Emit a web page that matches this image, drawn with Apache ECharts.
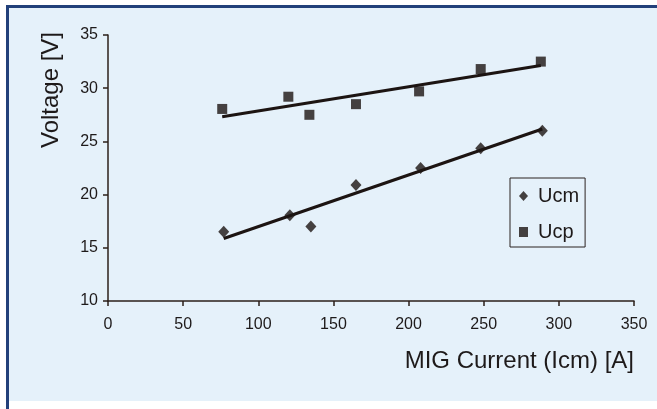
<!DOCTYPE html>
<html>
<head>
<meta charset="utf-8">
<script src="https://cdn.jsdelivr.net/npm/echarts@6/dist/echarts.min.js"></script>
<style>
html,body{margin:0;padding:0;background:#ffffff;}
#chart{width:657px;height:409px;}
</style>
</head>
<body>
<div id="chart"></div>
<script>
// Data
var ucmCurrent = [77, 121, 135, 165, 208, 248, 289];
var ucmVoltage = [16.5, 18.05, 17.0, 20.9, 22.5, 24.35, 26.0];
var ucpCurrent = [76, 120, 134, 165, 207, 248, 288];
var ucpVoltage = [28.05, 29.2, 27.5, 28.5, 29.7, 31.8, 32.5];
var seriesNames = ['Ucm', 'Ucp'];
var xTitle = 'MIG Current (Icm) [A]';
var yTitle = 'Voltage [V]';

function pairs(xs, ys) { return xs.map(function (x, i) { return [x, ys[i]]; }); }
// least-squares trend line between the first and last measured current
function trend(xs, ys) {
  var n = xs.length, mx = 0, my = 0;
  for (var i = 0; i < n; i++) { mx += xs[i]; my += ys[i]; }
  mx /= n; my /= n;
  var sxy = 0, sxx = 0;
  for (var j = 0; j < n; j++) { sxy += (xs[j] - mx) * (ys[j] - my); sxx += (xs[j] - mx) * (xs[j] - mx); }
  var b = sxy / sxx, a = my - b * mx;
  var x0 = Math.min.apply(null, xs), x1 = Math.max.apply(null, xs);
  return [[x0, a + b * x0], [x1, a + b * x1]];
}

var ink = '#1c1412';
var font = '"Liberation Sans", Arial, sans-serif';
var chart = echarts.init(document.getElementById('chart'), null, {renderer: 'canvas'});
chart.setOption({
  animation: false,
  backgroundColor: '#ffffff',
  textStyle: {fontFamily: font, color: '#1e1a1a'},
  graphic: [
    {type: 'rect', z: -10, shape: {x: 6, y: 5, width: 651, height: 396}, style: {fill: '#e5f1fa'}},
    {type: 'rect', z: -9, shape: {x: 6, y: 5, width: 651, height: 3}, style: {fill: '#22407a'}},
    {type: 'rect', z: -9, shape: {x: 6, y: 5, width: 3, height: 404}, style: {fill: '#22407a'}},
    {type: 'text', x: 51, y: 90, rotation: Math.PI / 2,
     style: {text: yTitle, fontSize: 24, fontFamily: font, fill: '#1e1a1a', align: 'center', verticalAlign: 'middle'}}
  ],
  grid: {left: 108, right: 23, top: 35, bottom: 108, containLabel: false},
  legend: {
    data: [
      {name: seriesNames[0], icon: 'diamond', itemStyle: {color: ink}},
      {name: seriesNames[1], icon: 'rect', itemStyle: {color: ink}}
    ],
    orient: 'vertical', left: 510, top: 178,
    itemWidth: 9, itemHeight: 10, itemGap: 16,
    padding: [8, 6, 5, 9],
    borderColor: '#2a2220', borderWidth: 1,
    backgroundColor: 'transparent',
    textStyle: {fontSize: 20, fontFamily: font, color: '#1e1a1a', lineHeight: 20, padding: [0, 0, 0, 5]}
  },
  xAxis: {
    type: 'value', min: 0, max: 350, interval: 50,
    name: xTitle, nameLocation: 'end', nameGap: 0,
    nameTextStyle: {fontSize: 24, fontFamily: font, color: '#1e1a1a', align: 'right', verticalAlign: 'top', padding: [48, 0, 0, 0]},
    axisLine: {lineStyle: {color: '#2b1f1a', width: 1.5}},
    axisTick: {show: true, inside: false, length: 5, lineStyle: {color: '#2b1f1a', width: 1.5}},
    axisLabel: {fontSize: 16, color: '#1e1a1a', margin: 16, fontFamily: font},
    splitLine: {show: false}
  },
  yAxis: {
    type: 'value', min: 10, max: 35, interval: 5,
    axisLine: {show: true, lineStyle: {color: '#2b1f1a', width: 1.5}},
    axisTick: {show: true, inside: false, length: 5, lineStyle: {color: '#2b1f1a', width: 1.5}},
    axisLabel: {fontSize: 16, color: '#1e1a1a', margin: 10, fontFamily: font},
    splitLine: {show: false}
  },
  series: [
    {name: seriesNames[0], type: 'scatter', symbol: 'diamond', symbolSize: [11, 12],
     itemStyle: {color: ink}, data: pairs(ucmCurrent, ucmVoltage), z: 3},
    {name: seriesNames[1], type: 'scatter', symbol: 'rect', symbolSize: 10,
     itemStyle: {color: ink}, data: pairs(ucpCurrent, ucpVoltage), z: 3},
    {name: 'Ucm trend', type: 'line', symbol: 'none', data: trend(ucmCurrent, ucmVoltage),
     lineStyle: {color: ink, width: 3}, z: 2},
    {name: 'Ucp trend', type: 'line', symbol: 'none', data: trend(ucpCurrent, ucpVoltage),
     lineStyle: {color: ink, width: 3}, z: 2}
  ]
});
</script>
</body>
</html>
